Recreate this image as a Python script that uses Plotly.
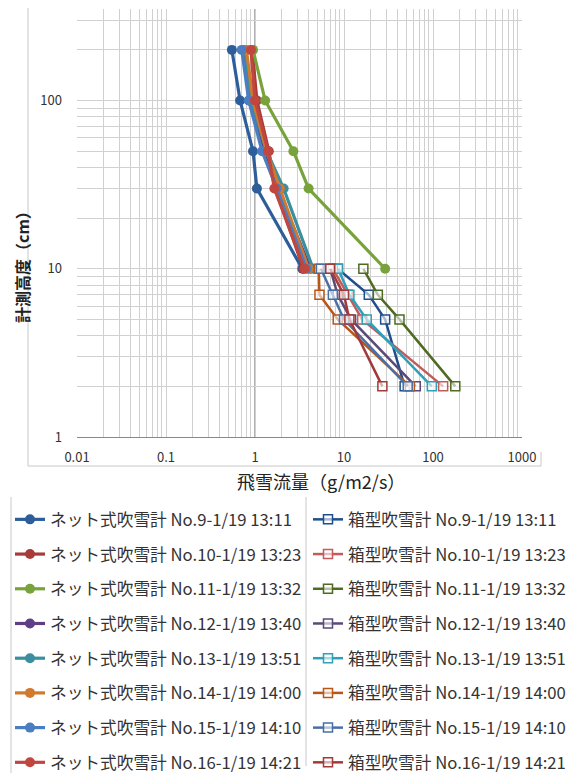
import plotly.graph_objects as go
import numpy as np

# ---- data ----
net_heights = [200, 100, 50, 30, 10]
box_heights = [10, 7, 5, 2]

net_names = [
    "ネット式吹雪計 No.9-1/19 13:11",
    "ネット式吹雪計 No.10-1/19 13:23",
    "ネット式吹雪計 No.11-1/19 13:32",
    "ネット式吹雪計 No.12-1/19 13:40",
    "ネット式吹雪計 No.13-1/19 13:51",
    "ネット式吹雪計 No.14-1/19 14:00",
    "ネット式吹雪計 No.15-1/19 14:10",
    "ネット式吹雪計 No.16-1/19 14:21",
]
box_names = [
    "箱型吹雪計 No.9-1/19 13:11",
    "箱型吹雪計 No.10-1/19 13:23",
    "箱型吹雪計 No.11-1/19 13:32",
    "箱型吹雪計 No.12-1/19 13:40",
    "箱型吹雪計 No.13-1/19 13:51",
    "箱型吹雪計 No.14-1/19 14:00",
    "箱型吹雪計 No.15-1/19 14:10",
    "箱型吹雪計 No.16-1/19 14:21",
]

net_no9 = [0.55, 0.68, 0.95, 1.05, 3.4]
net_no10 = [0.93, 1.05, 1.43, 1.7, 3.5]
net_no11 = [0.95, 1.3, 2.7, 4.0, 29]
net_no12 = [0.75, 0.86, 1.3, 1.8, 4.2]
net_no13 = [0.77, 0.9, 1.35, 2.1, 4.5]
net_no14 = [0.8, 0.95, 1.35, 1.9, 4.0]
net_no15 = [0.71, 0.85, 1.2, 1.75, 3.8]
net_no16 = [0.9, 1.0, 1.4, 1.65, 3.6]

box_no9 = [8.5, 19, 29, 48]
box_no10 = [7.5, 11, 16, 130]
box_no11 = [16.5, 24, 42, 178]
box_no12 = [7.0, 8.5, 12, 64]
box_no13 = [8.6, 11.5, 18, 97]
box_no14 = [5.2, 5.3, 8.5, 55]
box_no15 = [5.5, 7.5, 10, 52]
box_no16 = [7.0, 10, 11.5, 27]

net_values = [net_no9, net_no10, net_no11, net_no12, net_no13, net_no14, net_no15, net_no16]
box_values = [box_no9, box_no10, box_no11, box_no12, box_no13, box_no14, box_no15, box_no16]

net_colors = ["#2E5E9A", "#A83A38", "#78A33C", "#5F3E86", "#3A8E9E", "#D07A2E", "#4A7EC0", "#C0473F"]
box_colors = ["#1F4E8C", "#C25B5B", "#4F6A22", "#5B4A78", "#2FA0B8", "#B8561A", "#4A6FA5", "#A33A3A"]

x_ticks = [0.01, 0.1, 1, 10, 100, 1000]
x_tick_text = ["0.01", "0.1", "1", "10", "100", "1000"]
y_ticks = [1, 10, 100]
y_tick_text = ["1", "10", "100"]

FONT = "Noto Sans CJK JP"

fig = go.Figure()

for i, (name, vals, col) in enumerate(zip(net_names, net_values, net_colors)):
    fig.add_trace(go.Scatter(
        x=vals, y=net_heights, mode="lines+markers", name=name,
        line=dict(color=col, width=3.2),
        marker=dict(symbol="circle", size=10, color=col),
        legend="legend", legendgroup=f"n{i}",
    ))
for i, (name, vals, col) in enumerate(zip(box_names, box_values, box_colors)):
    fig.add_trace(go.Scatter(
        x=vals, y=box_heights, mode="lines+markers", name=name,
        line=dict(color=col, width=2.5),
        marker=dict(symbol="square", size=9, color="rgba(255,255,255,0.6)",
                    line=dict(color=col, width=1.5)),
        legend="legend2", legendgroup=f"b{i}",
    ))

# minor gridlines
xminor = [m * 10.0 ** e for e in range(-2, 3) for m in range(2, 10)]
yminor = [m * 10.0 ** e for e in range(0, 3) for m in range(2, 10)]

OFF = 8  # page body margin
W, H = 579, 773
L, R, T, B = 77 - OFF, 522 - OFF, 9 - OFF, 437 - OFF


def px(xp):
    return (xp - OFF - L) / (R - L)


def py(yp):
    return (B - (yp - OFF)) / (B - T)


grid = "#D0D0D0"
fig.update_xaxes(
    type="log", range=[-2, 3],
    tickvals=x_ticks, ticktext=x_tick_text,
    showgrid=True, gridcolor=grid, gridwidth=1,
    minor=dict(tickvals=xminor, showgrid=True, gridcolor=grid, gridwidth=1),
    showline=True, linecolor="#888888", linewidth=1, mirror=False,
    ticks="", ticklabelstandoff=8,
    tickfont=dict(family=FONT, size=13, color="#333333"),
    zeroline=False,
)
fig.update_yaxes(
    type="log", range=[0, np.log10(350)],
    tickvals=y_ticks, ticktext=y_tick_text,
    showgrid=True, gridcolor=grid, gridwidth=1,
    minor=dict(tickvals=yminor, showgrid=True, gridcolor=grid, gridwidth=1),
    showline=False, ticks="", ticklabelstandoff=14,
    tickfont=dict(family=FONT, size=13, color="#333333"),
    zeroline=False,
)

shapes = [
    # vertical axis crossing at x = 1
    dict(type="line", xref="x", yref="paper", x0=1, x1=1, y0=0, y1=1,
         line=dict(color="#999999", width=1.5), layer="below"),
    # outer chart border
    dict(type="line", xref="paper", yref="paper", x0=px(28), x1=px(28), y0=py(8), y1=py(466),
         line=dict(color="#C8C8C8", width=1)),
    dict(type="line", xref="paper", yref="paper", x0=px(28), x1=px(541), y0=py(466), y1=py(466),
         line=dict(color="#C8C8C8", width=1)),
    dict(type="line", xref="paper", yref="paper", x0=px(541), x1=px(541), y0=py(452), y1=py(466),
         line=dict(color="#C8C8C8", width=1)),
    # legend box lines
    dict(type="line", xref="paper", yref="paper", x0=px(11), x1=px(11), y0=py(497), y1=py(781),
         line=dict(color="#C8C8C8", width=1)),
    dict(type="line", xref="paper", yref="paper", x0=px(306), x1=px(306), y0=py(497), y1=py(766),
         line=dict(color="#C8C8C8", width=1)),
]

annotations = [
    dict(text="飛雪流量（g/m2/s）", xref="paper", yref="paper", x=px(321), y=py(481),
         showarrow=False, xanchor="center", yanchor="middle",
         font=dict(family=FONT, size=18, color="#222222")),
    dict(text="<b>計測高度（cm）</b>", xref="paper", yref="paper", x=px(22), y=py(263),
         showarrow=False, xanchor="center", yanchor="middle", textangle=-90,
         font=dict(family=FONT, size=16, color="#222222")),
]

leg_common = dict(
    xref="container", yref="container", yanchor="top", xanchor="left",
    font=dict(family=FONT, size=16.7, color="#333333"),
    bgcolor="rgba(0,0,0,0)", tracegroupgap=10, itemwidth=30,
    traceorder="grouped",
)

fig.update_layout(
    width=W, height=H,
    margin=dict(l=L, r=W - R, t=T, b=H - B, autoexpand=False),
    plot_bgcolor="white", paper_bgcolor="white",
    shapes=shapes, annotations=annotations,
    showlegend=True,
    legend=dict(x=2 / W, y=1 - 494 / H, **leg_common),
    legend2=dict(x=300 / W, y=1 - 494 / H, **leg_common),
)

fig.write_html("out.html")
